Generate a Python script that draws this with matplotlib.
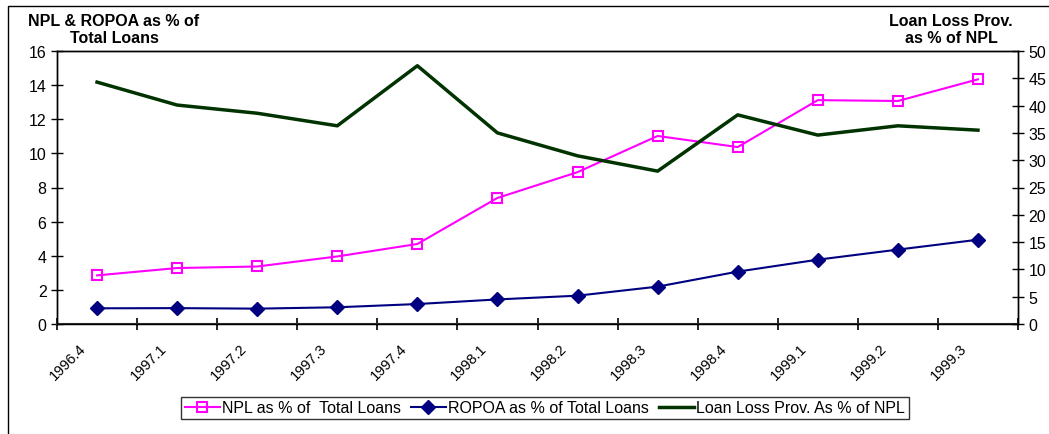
import numpy as np
import matplotlib
matplotlib.use("Agg")
from matplotlib import pyplot as plt
from matplotlib.patches import Rectangle
import matplotlib.transforms as mtransforms

plt.rcParams["font.family"] = ["Liberation Sans", "DejaVu Sans"]

# Quarter labels.
quarters = ["1996.4", "1997.1", "1997.2", "1997.3", "1997.4", "1998.1",
            "1998.2", "1998.3", "1998.4", "1999.1", "1999.2", "1999.3"]

# Left axis series (% of total loans).
npl_pct = [2.85, 3.28, 3.37, 3.96, 4.69, 7.39, 8.90, 11.02, 10.37, 13.12, 13.07, 14.34]
ropoa_pct = [0.92, 0.93, 0.90, 0.98, 1.17, 1.44, 1.66, 2.19, 3.07, 3.77, 4.36, 4.94]

# Right axis series (% of NPL).
llp_pct = [44.3, 40.1, 38.6, 36.3, 47.3, 35.0, 30.8, 28.0, 38.3, 34.6, 36.3, 35.5]

fig = plt.figure(figsize=(10.49, 4.35), dpi=100)
ax = fig.add_axes([57 / 1049, 1 - 325 / 435, 961 / 1049, 273 / 435])
ax2 = ax.twinx()

x = np.arange(len(quarters))

l1, = ax.plot(x, npl_pct, color="#FF00FF", lw=1.5, marker="s", ms=7.5,
              mfc="none", mec="#FF00FF", mew=1.5)
l2, = ax.plot(x, ropoa_pct, color="#000080", lw=1.5, marker="D", ms=7,
              mfc="#000080", mec="#000080")
l3, = ax2.plot(x, llp_pct, color="#003300", lw=2.5)

ax.set_xlim(-0.5, len(quarters) - 0.5)
ax.set_ylim(0, 16)
ax.set_yticks(np.arange(0, 17, 2))
ax2.set_ylim(0, 50)
ax2.set_yticks(np.arange(0, 51, 5))

# Category boundaries carry the tick marks, labels sit at category centres.
ax.set_xticks(np.arange(-0.5, len(quarters), 1.0), minor=True)
ax.set_xticks(x)
ax.set_xticklabels(quarters, rotation=45, ha="right", va="top", fontsize=10.5)
ax.tick_params(axis="x", which="major", length=0, pad=12)
ax.tick_params(axis="x", which="minor", length=8, direction="inout", width=1.2)
ax.tick_params(axis="y", length=8, direction="inout", labelsize=11.5, width=1)
ax2.tick_params(axis="y", length=8, direction="inout", labelsize=11.5, width=1)

# shift rotated labels a bit left (after tick_params, which resets transforms)
offset = mtransforms.ScaledTranslation(-8 / 100, 0, fig.dpi_scale_trans)
for lab in ax.xaxis.get_majorticklabels():
    lab.set_transform(lab.get_transform() + offset)

for a in (ax, ax2):
    for s in a.spines.values():
        s.set_color("black")
        s.set_linewidth(1)
ax.spines["bottom"].set_linewidth(1.5)
ax.spines["bottom"].set_color("#333333")

fig.text(114 / 1049, 1 - 30 / 435, "NPL & ROPOA as % of\nTotal Loans", ha="center",
         va="center", fontsize=11.5, fontweight="bold", linespacing=1.1)
fig.text(951 / 1049, 1 - 30 / 435, "Loan Loss Prov.\nas % of NPL", ha="center",
         va="center", fontsize=11.5, fontweight="bold", linespacing=1.1)

leg = fig.legend([l1, l2, l3],
                 ["NPL as % of  Total Loans", "ROPOA as % of Total Loans",
                  "Loan Loss Prov. As % of NPL"],
                 loc="center", bbox_to_anchor=(545 / 1049, 1 - 409 / 435), ncol=3,
                 fontsize=11.5, frameon=True, fancybox=False, edgecolor="black",
                 handlelength=2.2, handletextpad=0.15, columnspacing=0.6,
                 borderpad=0.25, borderaxespad=0)
leg.get_frame().set_linewidth(1)

# Outer chart border.
fig.patches.append(Rectangle((8 / 1049, -0.1), 1.2, 1 - 7 / 435 + 0.1,
                             transform=fig.transFigure, fill=False,
                             edgecolor="black", lw=1))

fig.savefig("out.png", dpi=100)
